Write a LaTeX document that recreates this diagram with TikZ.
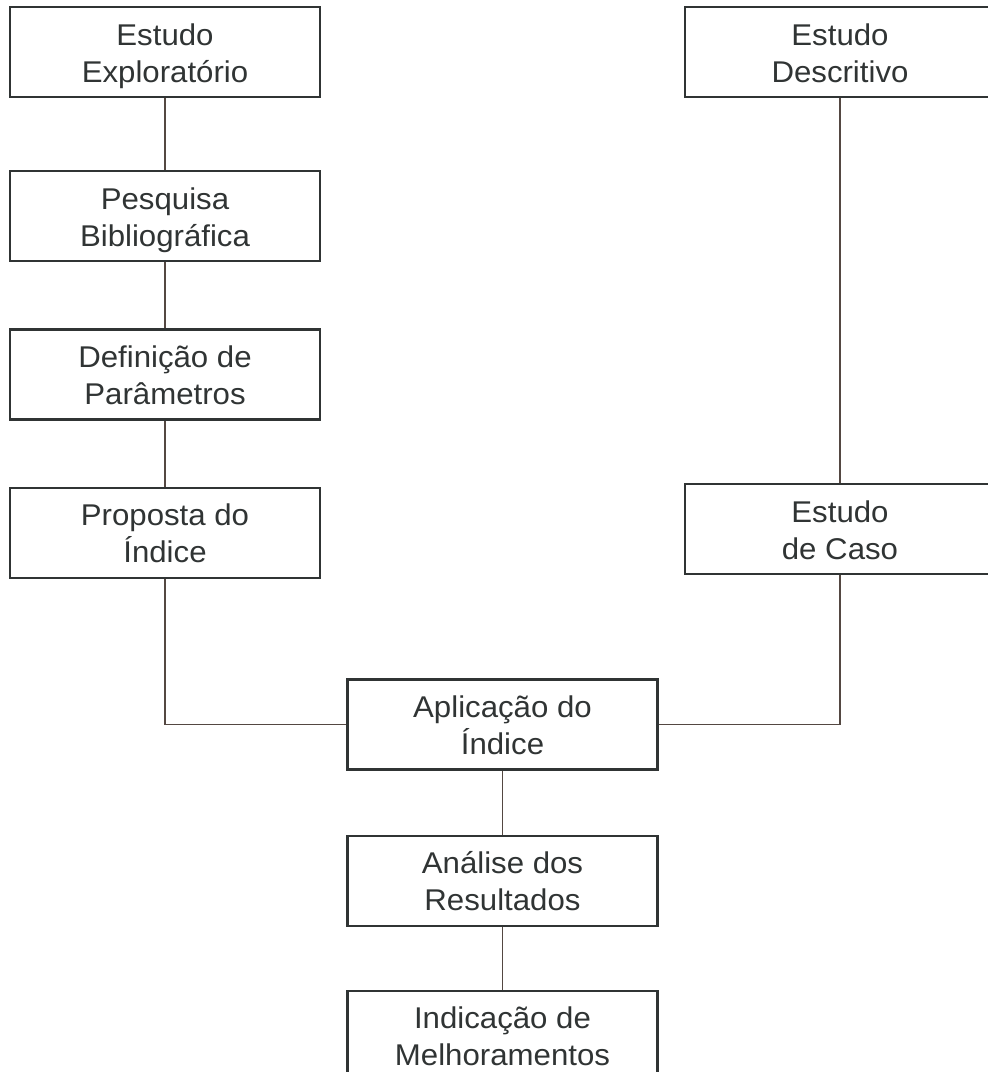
\documentclass[tikz,border=0pt]{standalone}
\usepackage{fontspec}
\setmainfont[FakeStretch=1.04]{Liberation Sans}
\usetikzlibrary{positioning}
\definecolor{boxgray}{RGB}{48,52,52}
\definecolor{linkbrown}{RGB}{84,72,66}

\begin{document}
\begin{tikzpicture}[x=0.5pt,y=-0.5pt,node distance=33pt,
        etapa/.style={draw=boxgray,line width=1.1pt,minimum width=155pt,minimum height=45pt,
            inner sep=0pt,align=center,text=boxgray,font=\fontsize{15}{18.5}\selectfont,
            text height=34pt,text depth=4pt},
        liga/.style={draw=linkbrown,line width=0.9pt}]
        \useasboundingbox (0,0) rectangle (987,1072);

        \node[etapa] (explor) at (165,52) {Estudo\\Exploratório};
        \node[etapa] (pesq) [below=36pt of explor] {Pesquisa\\Bibliográfica};
        \node[etapa] (defin) [below=of pesq] {Definição de\\Parâmetros};
        \node[etapa] (prop) [below=of defin] {Proposta do\\Índice};
        \node[etapa] (descr) at (840,52) {Estudo\\Descritivo};
        \node[etapa] (caso) at (840,529) {Estudo\\de Caso};
        \node[etapa] (aplic) at (502.5,724.5) {Aplicação do\\Índice};
        \node[etapa] (anal) [below=32pt of aplic] {Análise dos\\Resultados};
        \node[etapa] (indic) [below=31.5pt of anal] {Indicação de\\Melhoramentos};

        \draw[liga] (explor) -- (pesq);
        \draw[liga] (pesq) -- (defin);
        \draw[liga] (defin) -- (prop);
        \draw[liga] (descr) -- (caso);
        \draw[liga] (prop) |- (aplic);
        \draw[liga] (caso) |- (aplic);
        \draw[liga] (aplic) -- (anal);
        \draw[liga] (anal) -- (indic);
    \end{tikzpicture}
\end{document}
